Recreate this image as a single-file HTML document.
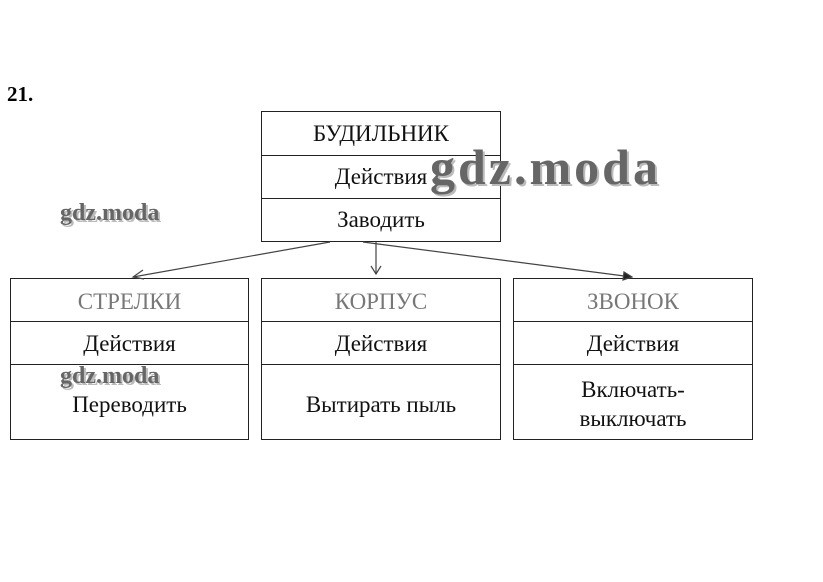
<!DOCTYPE html>
<html><head><meta charset="utf-8"><style>
body{margin:0;width:823px;height:582px;background:#fff;position:relative;overflow:hidden;font-family:"Liberation Serif",serif;}
.b{position:absolute;border:1px solid #222;box-sizing:border-box;}
.r{position:absolute;left:0;right:0;text-align:center;font-size:23px;color:#111;}
.l{position:absolute;left:0;right:0;border-top:1px solid #222;}
.wm{position:absolute;font-family:"Liberation Serif",serif;font-weight:bold;color:#666;text-shadow:2px 2px 0 #bbb;white-space:nowrap;}
</style></head><body>
<div style="position:absolute;left:7px;top:82px;font-weight:bold;font-size:21px;">21.</div>

<div class="b" style="left:261px;top:111px;width:240px;height:131px;">
 <div class="r" style="top:9px;">БУДИЛЬНИК</div>
 <div class="l" style="top:43px"></div>
 <div class="r" style="top:52px;">Действия</div>
 <div class="l" style="top:86px"></div>
 <div class="r" style="top:95px;">Заводить</div>
</div>

<div class="b" style="left:10px;top:278px;width:239px;height:162px;">
 <div class="r" style="top:10px;color:#777">СТРЕЛКИ</div>
 <div class="l" style="top:42px"></div>
 <div class="r" style="top:52px;">Действия</div>
 <div class="l" style="top:85px"></div>
 <div class="r" style="top:113px;">Переводить</div>
</div>
<div class="b" style="left:261px;top:278px;width:240px;height:162px;">
 <div class="r" style="top:10px;color:#777">КОРПУС</div>
 <div class="l" style="top:42px"></div>
 <div class="r" style="top:52px;">Действия</div>
 <div class="l" style="top:85px"></div>
 <div class="r" style="top:113px;">Вытирать пыль</div>
</div>
<div class="b" style="left:513px;top:278px;width:240px;height:162px;">
 <div class="r" style="top:10px;color:#777">ЗВОНОК</div>
 <div class="l" style="top:42px"></div>
 <div class="r" style="top:52px;">Действия</div>
 <div class="l" style="top:85px"></div>
 <div class="r" style="top:96px;line-height:29px;">Включать-<br>выключать</div>
</div>

<svg width="823" height="582" style="position:absolute;left:0;top:0" fill="none" stroke="#444" stroke-width="1.2">
 <line x1="330" y1="242" x2="133" y2="277"/>
 <polyline points="143,270 133,277 144,279"/>
 <line x1="376" y1="242" x2="376" y2="274"/>
 <polyline points="371,266 376,274 381,266"/>
 <line x1="363" y1="242" x2="632" y2="277"/>
 <polygon points="624,272 632,277 623,280" fill="#222"/>
</svg>

<div class="wm" style="left:430px;top:138px;font-size:50px;letter-spacing:3px;">gdz.moda</div>
<div class="wm" style="left:60px;top:200px;font-size:24px;letter-spacing:0px;">gdz.moda</div>
<div class="wm" style="left:60px;top:363px;font-size:24px;letter-spacing:0px;">gdz.moda</div>
</body></html>
